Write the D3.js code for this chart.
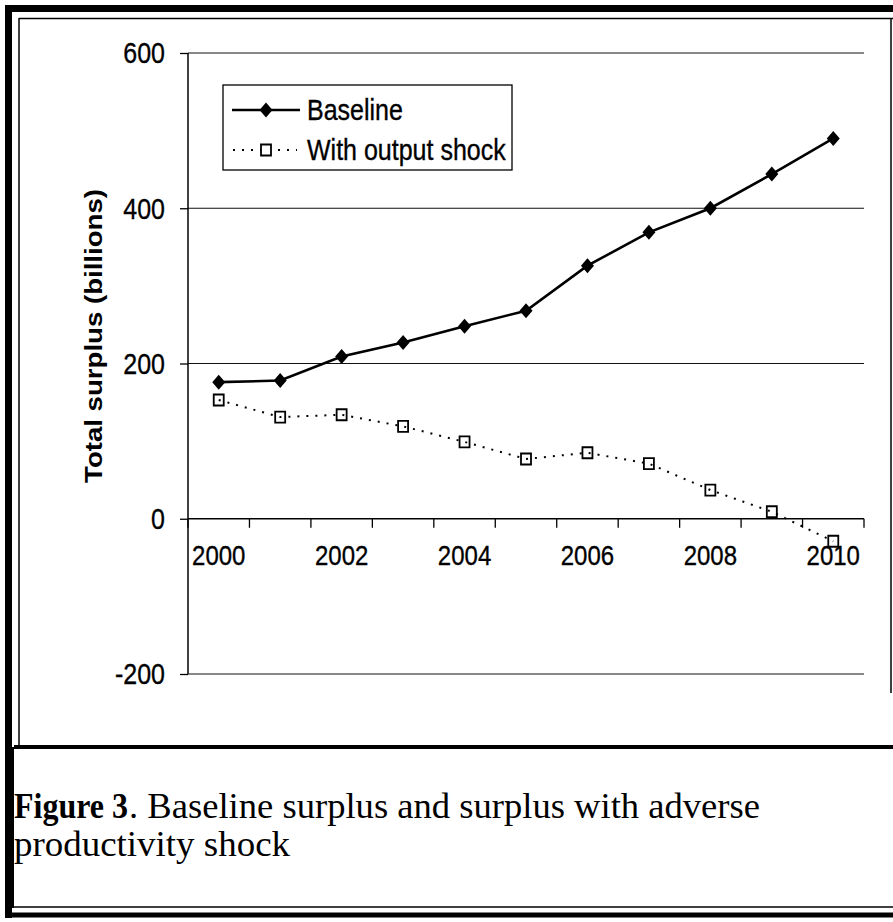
<!DOCTYPE html>
<html>
<head>
<meta charset="utf-8">
<script src="https://cdn.jsdelivr.net/npm/d3@7"></script>
<style>
  html, body { margin: 0; padding: 0; background: #fff; }
  svg { display: block; }
</style>
</head>
<body>
<svg id="chart" width="893" height="922"></svg>
<script>
// ---- data ----
const years = ["2000","2001","2002","2003","2004","2005","2006","2007","2008","2009","2010"];
const baseline = [176, 178, 209, 227, 248, 268, 326, 369, 400, 444, 490];
const withShock = [153, 131, 134, 119, 99, 77, 85, 71, 37, 9, -29];
const yTicks = [-200, 0, 200, 400, 600];
const xTickLabels = ["2000","2002","2004","2006","2008","2010"];
const seriesNames = ["Baseline", "With output shock"];
const yTitle = "Total surplus (billions)";
const captionBold = "Figure 3";
const captionLine1 = ". Baseline surplus and surplus with adverse";
const captionLine2 = "productivity shock";

const svg = d3.select("#chart");
const SY = 1.15; // vertical stretch of the scan

// ---- frame ----
const frame = svg.append("g").attr("fill", "none").attr("stroke", "#000");
frame.append("line").attr("x1", 5).attr("x2", 893).attr("y1", 8.5).attr("y2", 8.5).attr("stroke-width", 7);
frame.append("line").attr("x1", 8.5).attr("x2", 8.5).attr("y1", 5).attr("y2", 918).attr("stroke-width", 7);
frame.append("line").attr("x1", 5).attr("x2", 893).attr("y1", 915).attr("y2", 915).attr("stroke-width", 5);
frame.append("line").attr("x1", 19).attr("x2", 893).attr("y1", 18.5).attr("y2", 18.5).attr("stroke-width", 1.5);
frame.append("line").attr("x1", 19).attr("x2", 19).attr("y1", 18).attr("y2", 747).attr("stroke-width", 1.5);
frame.append("line").attr("x1", 891).attr("x2", 891).attr("y1", 18).attr("y2", 693).attr("stroke-width", 1.5);
frame.append("line").attr("x1", 14).attr("x2", 893).attr("y1", 747).attr("y2", 747).attr("stroke-width", 4);
frame.append("line").attr("x1", 13).attr("x2", 13).attr("y1", 747).attr("y2", 908).attr("stroke-width", 2);
frame.append("line").attr("x1", 14).attr("x2", 893).attr("y1", 907).attr("y2", 907).attr("stroke-width", 1.5);

// ---- scales ----
const plotL = 188, plotR = 864, plotT = 53, plotB = 674;
const x = d3.scaleBand().domain(years).range([plotL, plotR]).paddingInner(0).paddingOuter(0);
const cx = d => x(d) + x.bandwidth() / 2;
const y = d3.scaleLinear().domain([-200, 600]).range([plotB, plotT]);

const font = "'Liberation Sans', Arial, sans-serif";

// gridlines
svg.append("g").selectAll("line").data(yTicks.filter(v => v !== 0)).join("line")
  .attr("x1", plotL).attr("x2", plotR)
  .attr("y1", d => y(d)).attr("y2", d => y(d))
  .attr("stroke", "#111").attr("stroke-width", 1.2);

// y axis
const yAxis = svg.append("g").attr("transform", `translate(${plotL},0)`)
  .call(d3.axisLeft(y).tickValues(yTicks).tickSize(8).tickFormat(""));
yAxis.select(".domain").attr("stroke", "#000").attr("stroke-width", 1.5).attr("d", `M0,${plotT}V${plotB}`);
yAxis.selectAll(".tick line").attr("stroke", "#000").attr("stroke-width", 1.3);

// y tick labels
svg.append("g").selectAll("text").data(yTicks).join("text")
  .attr("transform", d => `translate(165,${y(d)}) scale(1,${SY})`)
  .attr("text-anchor", "end").attr("dy", "0.36em")
  .attr("font-family", font).attr("font-size", 25).attr("fill", "#000")
  .attr("stroke", "#000").attr("stroke-width", 0.3)
  .text(d => d);

// x axis at zero
const xAxis = svg.append("g").attr("transform", `translate(0,${y(0)})`);
xAxis.append("line").attr("x1", plotL).attr("x2", plotR).attr("y1", 0).attr("y2", 0)
  .attr("stroke", "#000").attr("stroke-width", 1.5);
const boundaries = years.map(d => x(d)).concat([x(years[years.length - 1]) + x.bandwidth()]);
xAxis.selectAll("line.tk").data(boundaries).join("line").attr("class", "tk")
  .attr("x1", d => d).attr("x2", d => d).attr("y1", 0).attr("y2", 9)
  .attr("stroke", "#000").attr("stroke-width", 1.3);

svg.append("g").selectAll("text").data(xTickLabels).join("text")
  .attr("transform", d => `translate(${cx(d)},${y(0) + 36}) scale(1,${SY})`)
  .attr("text-anchor", "middle").attr("dy", "0.36em")
  .attr("font-family", font).attr("font-size", 24).attr("fill", "#000")
  .attr("stroke", "#000").attr("stroke-width", 0.3)
  .text(d => d);

// y title
svg.append("text")
  .attr("transform", `translate(93,336) rotate(-90) scale(${SY},1)`)
  .attr("text-anchor", "middle").attr("dy", "0.36em")
  .attr("font-family", font).attr("font-size", 24).attr("font-weight", "bold").attr("fill", "#000")
  .text(yTitle);

// ---- series ----
const lineGen = d3.line().x((d, i) => cx(years[i])).y(d => y(d));

svg.append("path").datum(withShock).attr("d", lineGen)
  .attr("fill", "none").attr("stroke", "#000").attr("stroke-width", 2)
  .attr("stroke-dasharray", "2,7");

svg.append("path").datum(baseline).attr("d", lineGen)
  .attr("fill", "none").attr("stroke", "#000").attr("stroke-width", 2.6);

const diamond = (hw, hh) => `M0,${-hh}L${hw},0L0,${hh}L${-hw},0Z`;
const square = (hw, hh) => `M${-hw},${-hh}H${hw}V${hh}H${-hw}Z`;

svg.append("g").selectAll("path").data(baseline).join("path")
  .attr("transform", (d, i) => `translate(${cx(years[i])},${y(d)})`)
  .attr("d", diamond(6.5, 7.5)).attr("fill", "#000");

svg.append("g").selectAll("path").data(withShock).join("path")
  .attr("transform", (d, i) => `translate(${cx(years[i])},${y(d)})`)
  .attr("d", square(5, 5.5)).attr("fill", "none").attr("stroke", "#000").attr("stroke-width", 1.8);

// ---- legend ----
const lg = svg.append("g");
lg.append("rect").attr("x", 223).attr("y", 85).attr("width", 289).attr("height", 85)
  .attr("fill", "#fff").attr("stroke", "#000").attr("stroke-width", 1.3);
const rows = [110, 150];
lg.append("line").attr("x1", 232).attr("x2", 300).attr("y1", rows[0]).attr("y2", rows[0])
  .attr("stroke", "#000").attr("stroke-width", 2.6);
lg.append("path").attr("transform", `translate(266,${rows[0]})`).attr("d", diamond(6.5, 7.5)).attr("fill", "#000");
lg.append("line").attr("x1", 233).attr("x2", 297).attr("y1", rows[1]).attr("y2", rows[1])
  .attr("stroke", "#000").attr("stroke-width", 2).attr("stroke-dasharray", "2,7");
lg.append("path").attr("transform", `translate(266,${rows[1]})`).attr("d", square(5, 5.5))
  .attr("fill", "#fff").attr("stroke", "#000").attr("stroke-width", 1.8);
lg.selectAll("text").data(seriesNames).join("text")
  .attr("transform", (d, i) => `translate(307,${rows[i]}) scale(1,${SY})`)
  .attr("dy", "0.36em")
  .attr("font-family", font).attr("font-size", 25).attr("fill", "#000")
  .attr("stroke", "#000").attr("stroke-width", 0.3)
  .text(d => d);

// ---- caption ----
const serif = "'Liberation Serif', 'DejaVu Serif', serif";
svg.append("text").attr("transform", `translate(14,818) scale(1,${SY})`)
  .attr("font-family", serif).attr("font-size", 31).attr("font-weight", "bold").attr("fill", "#000")
  .attr("textLength", 114).attr("lengthAdjust", "spacingAndGlyphs")
  .text(captionBold);
svg.append("text").attr("transform", `translate(129,818) scale(1,${SY})`)
  .attr("font-family", serif).attr("font-size", 31).attr("fill", "#000")
  .attr("textLength", 631).attr("lengthAdjust", "spacingAndGlyphs")
  .text(captionLine1);
svg.append("text").attr("transform", `translate(14,856) scale(1,${SY})`)
  .attr("font-family", serif).attr("font-size", 31).attr("fill", "#000")
  .attr("textLength", 276).attr("lengthAdjust", "spacingAndGlyphs")
  .text(captionLine2);
</script>
</body>
</html>
